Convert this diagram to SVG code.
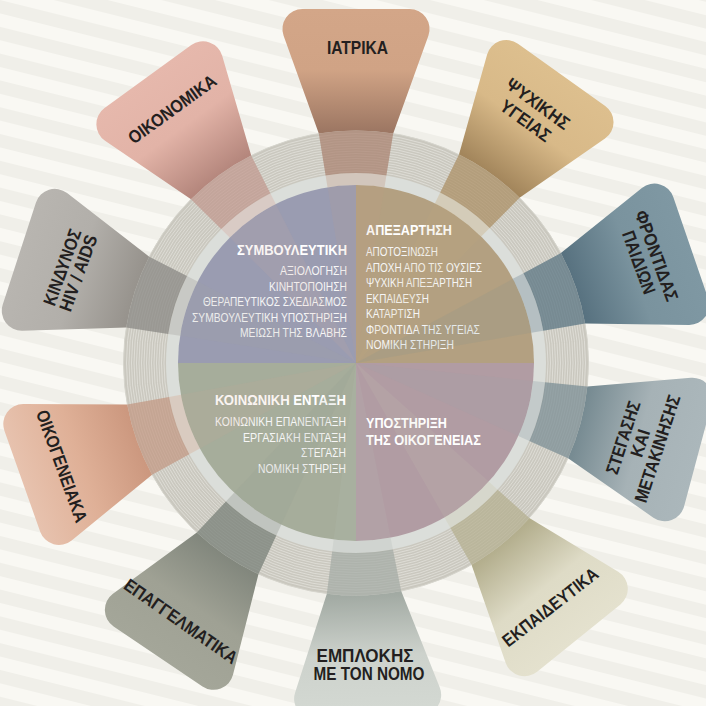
<svg xmlns="http://www.w3.org/2000/svg" xmlns:xlink="http://www.w3.org/1999/xlink" width="706" height="706" viewBox="0 0 706 706">
<style>
.lbl{font-family:"Liberation Sans",Arial,sans-serif;font-weight:bold;font-size:18px;fill:#231f20}
.qt{font-family:"Liberation Sans",Arial,sans-serif;font-weight:bold;font-size:14px;fill:#ffffff}
.qi{font-family:"Liberation Sans",Arial,sans-serif;font-size:13.5px;fill:#f6f6f6}
.stripe{fill:none;stroke:#e0dfd8;stroke-width:0.9}
</style>
<defs>
<pattern id="bgp" width="26" height="26" patternUnits="userSpaceOnUse" patternTransform="rotate(14)">
<rect width="26" height="13" fill="#f0efe9"/>
</pattern>
<path id="petalShape" d="M -37.2 -229.5 L -72.4 -327.3 A 20 20 0 0 1 -53.6 -354 L 53.6 -354 A 20 20 0 0 1 72.4 -327.3 L 37.2 -229.5 A 232.5 232.5 0 0 0 -37.2 -229.5 Z"/>
<path id="bandRing" d="M -37.2 -229.5 A 232.5 232.5 0 0 1 37.2 -229.5 L 30.4 -187.6 A 190 190 0 0 0 -30.4 -187.6 Z"/>
<path id="bandLight" d="M -30.4 -187.6 A 190 190 0 0 1 30.4 -187.6 L 28.5 -175.7 A 178 178 0 0 0 -28.5 -175.7 Z"/>
<path id="bandPie" d="M 0 0 L -28.5 -175.7 A 178 178 0 0 1 28.5 -175.7 Z"/>
<linearGradient id="g1" gradientUnits="userSpaceOnUse" x1="0" y1="-354" x2="0" y2="-232"><stop offset="0" stop-color="#d3a688"/><stop offset="0.5" stop-color="#d0a385"/><stop offset="1" stop-color="#9d7763"/></linearGradient>
<linearGradient id="g2" gradientUnits="userSpaceOnUse" x1="0" y1="-354" x2="0" y2="-232"><stop offset="0" stop-color="#ddbf8e"/><stop offset="0.5" stop-color="#d8b988"/><stop offset="1" stop-color="#a3865c"/></linearGradient>
<linearGradient id="g3" gradientUnits="userSpaceOnUse" x1="0" y1="-354" x2="0" y2="-232"><stop offset="0" stop-color="#7f98a3"/><stop offset="0.5" stop-color="#7a939e"/><stop offset="1" stop-color="#587280"/></linearGradient>
<linearGradient id="g4" gradientUnits="userSpaceOnUse" x1="0" y1="-354" x2="0" y2="-232"><stop offset="0" stop-color="#abb7bb"/><stop offset="0.5" stop-color="#a6b2b6"/><stop offset="1" stop-color="#778b92"/></linearGradient>
<linearGradient id="g5" gradientUnits="userSpaceOnUse" x1="0" y1="-354" x2="0" y2="-232"><stop offset="0" stop-color="#e4e1ce"/><stop offset="0.5" stop-color="#dedbc6"/><stop offset="1" stop-color="#b3ae8d"/></linearGradient>
<linearGradient id="g6" gradientUnits="userSpaceOnUse" x1="0" y1="-354" x2="0" y2="-232"><stop offset="0" stop-color="#d4d9d3"/><stop offset="0.5" stop-color="#cdd2cc"/><stop offset="1" stop-color="#a2aaa3"/></linearGradient>
<linearGradient id="g7" gradientUnits="userSpaceOnUse" x1="0" y1="-354" x2="0" y2="-232"><stop offset="0" stop-color="#a4a699"/><stop offset="0.5" stop-color="#9fa194"/><stop offset="1" stop-color="#82877d"/></linearGradient>
<linearGradient id="g8" gradientUnits="userSpaceOnUse" x1="0" y1="-354" x2="0" y2="-232"><stop offset="0" stop-color="#e7c2ae"/><stop offset="0.5" stop-color="#dfb097"/><stop offset="1" stop-color="#cc987f"/></linearGradient>
<linearGradient id="g9" gradientUnits="userSpaceOnUse" x1="0" y1="-354" x2="0" y2="-232"><stop offset="0" stop-color="#b8b5b0"/><stop offset="0.5" stop-color="#b2afaa"/><stop offset="1" stop-color="#97938d"/></linearGradient>
<linearGradient id="g10" gradientUnits="userSpaceOnUse" x1="0" y1="-354" x2="0" y2="-232"><stop offset="0" stop-color="#e6b8ac"/><stop offset="0.5" stop-color="#e2b3a7"/><stop offset="1" stop-color="#b5877d"/></linearGradient>
</defs>

<rect width="706" height="706" fill="#f9f8f3"/>
<rect width="706" height="706" fill="url(#bgp)"/>

<g id="wheel-ring">
<circle cx="356" cy="363" r="232.5" fill="#cac8bf" stroke="#d6d5cd" stroke-width="1"/>
<g class="stripe">
<circle cx="356" cy="363" r="192"/><circle cx="356" cy="363" r="194.5"/><circle cx="356" cy="363" r="197"/><circle cx="356" cy="363" r="199.5"/><circle cx="356" cy="363" r="202"/><circle cx="356" cy="363" r="204.5"/><circle cx="356" cy="363" r="207"/><circle cx="356" cy="363" r="209.5"/><circle cx="356" cy="363" r="212"/><circle cx="356" cy="363" r="214.5"/><circle cx="356" cy="363" r="217"/><circle cx="356" cy="363" r="219.5"/><circle cx="356" cy="363" r="222"/><circle cx="356" cy="363" r="224.5"/><circle cx="356" cy="363" r="227"/><circle cx="356" cy="363" r="229.5"/>
</g>
<circle cx="356" cy="363" r="190" fill="#dbdeda"/>
</g>

<g id="q-symvouleftiki">
<path d="M356 363 L178 363 A178 178 0 0 1 356 185 Z" fill="#9a9cb1"/>
<text class="qt" x="237" y="255" textLength="110" lengthAdjust="spacingAndGlyphs">ΣΥΜΒΟΥΛΕΥΤΙΚΗ</text>
<text class="qi" x="280" y="275" textLength="67" lengthAdjust="spacingAndGlyphs">ΑΞΙΟΛΟΓΗΣΗ</text>
<text class="qi" x="269" y="290.5" textLength="78" lengthAdjust="spacingAndGlyphs">ΚΙΝΗΤΟΠΟΙΗΣΗ</text>
<text class="qi" x="203" y="306" textLength="144" lengthAdjust="spacingAndGlyphs">ΘΕΡΑΠΕΥΤΙΚΟΣ ΣΧΕΔΙΑΣΜΟΣ</text>
<text class="qi" x="192" y="321.5" textLength="155" lengthAdjust="spacingAndGlyphs">ΣΥΜΒΟΥΛΕΥΤΙΚΗ ΥΠΟΣΤΗΡΙΞΗ</text>
<text class="qi" x="240" y="337" textLength="107" lengthAdjust="spacingAndGlyphs">ΜΕΙΩΣΗ ΤΗΣ ΒΛΑΒΗΣ</text>
</g>

<g id="q-apexartisi">
<path d="M356 363 L356 185 A178 178 0 0 1 534 363 Z" fill="#b3a081"/>
<text class="qt" x="366" y="235" textLength="86" lengthAdjust="spacingAndGlyphs">ΑΠΕΞΑΡΤΗΣΗ</text>
<text class="qi" x="366" y="256" textLength="72" lengthAdjust="spacingAndGlyphs">ΑΠΟΤΟΞΙΝΩΣΗ</text>
<text class="qi" x="366" y="271.5" textLength="116" lengthAdjust="spacingAndGlyphs">ΑΠΟΧΗ ΑΠΟ ΤΙΣ ΟΥΣΙΕΣ</text>
<text class="qi" x="366" y="287" textLength="106" lengthAdjust="spacingAndGlyphs">ΨΥΧΙΚΗ ΑΠΕΞΑΡΤΗΣΗ</text>
<text class="qi" x="366" y="302.5" textLength="63" lengthAdjust="spacingAndGlyphs">ΕΚΠΑΙΔΕΥΣΗ</text>
<text class="qi" x="366" y="318" textLength="54" lengthAdjust="spacingAndGlyphs">ΚΑΤΑΡΤΙΣΗ</text>
<text class="qi" x="366" y="333.5" textLength="114" lengthAdjust="spacingAndGlyphs">ΦΡΟΝΤΙΔΑ ΤΗΣ ΥΓΕΙΑΣ</text>
<text class="qi" x="366" y="349" textLength="88" lengthAdjust="spacingAndGlyphs">ΝΟΜΙΚΗ ΣΤΗΡΙΞΗ</text>
</g>

<g id="q-ypostirixi">
<path d="M356 363 L534 363 A178 178 0 0 1 356 541 Z" fill="#b19ca3"/>
<text class="qt" x="366" y="428" textLength="81" lengthAdjust="spacingAndGlyphs">ΥΠΟΣΤΗΡΙΞΗ</text>
<text class="qt" x="366" y="445" textLength="115" lengthAdjust="spacingAndGlyphs">ΤΗΣ ΟΙΚΟΓΕΝΕΙΑΣ</text>
</g>

<g id="q-koinoniki">
<path d="M356 363 L356 541 A178 178 0 0 1 178 363 Z" fill="#a6ad9b"/>
<text class="qt" x="215" y="405" textLength="131" lengthAdjust="spacingAndGlyphs">ΚΟΙΝΩΝΙΚΗ ΕΝΤΑΞΗ</text>
<text class="qi" x="215" y="426" textLength="131" lengthAdjust="spacingAndGlyphs">ΚΟΙΝΩΝΙΚΗ ΕΠΑΝΕΝΤΑΞΗ</text>
<text class="qi" x="243" y="441.5" textLength="103" lengthAdjust="spacingAndGlyphs">ΕΡΓΑΣΙΑΚΗ ΕΝΤΑΞΗ</text>
<text class="qi" x="301" y="457" textLength="45" lengthAdjust="spacingAndGlyphs">ΣΤΕΓΑΣΗ</text>
<text class="qi" x="258" y="472.5" textLength="88" lengthAdjust="spacingAndGlyphs">ΝΟΜΙΚΗ ΣΤΗΡΙΞΗ</text>
</g>

<g id="connectors"></g>

<g id="p-iatrika">
<g transform="translate(356 363) rotate(0)">
<use xlink:href="#petalShape" fill="url(#g1)"/>
<use xlink:href="#bandRing" fill="#a87f6c" opacity="0.7"/>
<use xlink:href="#bandLight" fill="#c49a84" opacity="0.35"/>
<use xlink:href="#bandPie" fill="#c49a84" opacity="0.12"/>
</g>
<text class="lbl" x="327" y="53.5" textLength="61" lengthAdjust="spacingAndGlyphs">ΙΑΤΡΙΚΑ</text>
</g>

<g id="p-psychikis">
<g transform="translate(356 363) rotate(35.5)">
<use xlink:href="#petalShape" fill="url(#g2)"/>
<use xlink:href="#bandRing" fill="#a98b5f" opacity="0.7"/>
<use xlink:href="#bandLight" fill="#c9ab7c" opacity="0.35"/>
<use xlink:href="#bandPie" fill="#c9ab7c" opacity="0.12"/>
</g>
<g transform="translate(532 112) rotate(36)">
<text class="lbl" x="-37" y="-4" textLength="74" lengthAdjust="spacingAndGlyphs">ΨΥΧΙΚΗΣ</text>
<text class="lbl" x="-29" y="17" textLength="58" lengthAdjust="spacingAndGlyphs">ΥΓΕΙΑΣ</text>
</g>
</g>

<g id="p-frontidas">
<g transform="translate(356 363) rotate(71)">
<use xlink:href="#petalShape" fill="url(#g3)"/>
<use xlink:href="#bandRing" fill="#5b7683" opacity="0.75"/>
<use xlink:href="#bandLight" fill="#6f8894" opacity="0.35"/>
<use xlink:href="#bandPie" fill="#6f8894" opacity="0.12"/>
</g>
<g transform="translate(648 259) rotate(70)">
<text class="lbl" x="-47.5" y="-3" textLength="95" lengthAdjust="spacingAndGlyphs">ΦΡΟΝΤΙΔΑΣ</text>
<text class="lbl" x="-33" y="16" textLength="66" lengthAdjust="spacingAndGlyphs">ΠΑΙΔΙΩΝ</text>
</g>
</g>

<g id="p-stegasis">
<g transform="translate(356 363) rotate(105)">
<use xlink:href="#petalShape" fill="url(#g4)"/>
<use xlink:href="#bandRing" fill="#7c8f96" opacity="0.75"/>
<use xlink:href="#bandLight" fill="#98a7ad" opacity="0.35"/>
<use xlink:href="#bandPie" fill="#98a7ad" opacity="0.12"/>
</g>
<g transform="translate(640 443) rotate(-72)">
<text class="lbl" x="-38" y="-11.5" textLength="76" lengthAdjust="spacingAndGlyphs">ΣΤΕΓΑΣΗΣ</text>
<text class="lbl" x="-14" y="6.5" textLength="28" lengthAdjust="spacingAndGlyphs">ΚΑΙ</text>
<text class="lbl" x="-56" y="24.5" textLength="112" lengthAdjust="spacingAndGlyphs">ΜΕΤΑΚΙΝΗΣΗΣ</text>
</g>
</g>

<g id="p-ekpaideftika">
<g transform="translate(356 363) rotate(141)">
<use xlink:href="#petalShape" fill="url(#g5)"/>
<use xlink:href="#bandRing" fill="#b3ae8d" opacity="0.7"/>
<use xlink:href="#bandLight" fill="#cfcbb3" opacity="0.35"/>
<use xlink:href="#bandPie" fill="#cfcbb3" opacity="0.12"/>
</g>
<g transform="translate(550 607) rotate(-38)">
<text class="lbl" x="-58" y="6.5" textLength="116" lengthAdjust="spacingAndGlyphs">ΕΚΠΑΙΔΕΥΤΙΚΑ</text>
</g>
</g>

<g id="p-emplokis">
<g transform="translate(356 363) rotate(178)">
<use xlink:href="#petalShape" fill="url(#g6)"/>
<use xlink:href="#bandRing" fill="#a2aaa4" opacity="0.7"/>
<use xlink:href="#bandLight" fill="#bcc3bd" opacity="0.35"/>
<use xlink:href="#bandPie" fill="#bcc3bd" opacity="0.12"/>
</g>
<text class="lbl" x="316.5" y="661.5" textLength="97" lengthAdjust="spacingAndGlyphs">ΕΜΠΛΟΚΗΣ</text>
<text class="lbl" x="313.5" y="679.5" textLength="111" lengthAdjust="spacingAndGlyphs">ΜΕ ΤΟΝ ΝΟΜΟ</text>
</g>

<g id="p-epangelmatika">
<g transform="translate(356 363) rotate(214)">
<use xlink:href="#petalShape" fill="url(#g7)"/>
<use xlink:href="#bandRing" fill="#788078" opacity="0.75"/>
<use xlink:href="#bandLight" fill="#8f958b" opacity="0.35"/>
<use xlink:href="#bandPie" fill="#8f958b" opacity="0.12"/>
</g>
<g transform="translate(181 621) rotate(35)">
<text class="lbl" x="-67" y="6.5" textLength="134" lengthAdjust="spacingAndGlyphs">ΕΠΑΓΓΕΛΜΑΤΙΚΑ</text>
</g>
</g>

<g id="p-oikogeneiaka">
<g transform="translate(356 363) rotate(250.5)">
<use xlink:href="#petalShape" fill="url(#g8)"/>
<use xlink:href="#bandRing" fill="#c29580" opacity="0.7"/>
<use xlink:href="#bandLight" fill="#d6a890" opacity="0.35"/>
<use xlink:href="#bandPie" fill="#d6a890" opacity="0.12"/>
</g>
<g transform="translate(62 466) rotate(70)">
<text class="lbl" x="-59" y="6.5" textLength="118" lengthAdjust="spacingAndGlyphs">ΟΙΚΟΓΕΝΕΙΑΚΑ</text>
</g>
</g>

<g id="p-kindynos">
<g transform="translate(356 363) rotate(288)">
<use xlink:href="#petalShape" fill="url(#g9)"/>
<use xlink:href="#bandRing" fill="#8a8884" opacity="0.75"/>
<use xlink:href="#bandLight" fill="#a5a29d" opacity="0.35"/>
<use xlink:href="#bandPie" fill="#a5a29d" opacity="0.12"/>
</g>
<g transform="translate(70 270) rotate(-70)">
<text class="lbl" x="-40" y="-2" textLength="80" lengthAdjust="spacingAndGlyphs">ΚΙΝΔΥΝΟΣ</text>
<text class="lbl" x="-40" y="15" textLength="80" lengthAdjust="spacingAndGlyphs">HIV / AIDS</text>
</g>
</g>

<g id="p-oikonomika">
<g transform="translate(356 363) rotate(324)">
<use xlink:href="#petalShape" fill="url(#g10)"/>
<use xlink:href="#bandRing" fill="#c0968c" opacity="0.7"/>
<use xlink:href="#bandLight" fill="#d8aa9f" opacity="0.35"/>
<use xlink:href="#bandPie" fill="#d8aa9f" opacity="0.12"/>
</g>
<g transform="translate(172 109) rotate(-36)">
<text class="lbl" x="-52" y="6.5" textLength="104" lengthAdjust="spacingAndGlyphs">ΟΙΚΟΝΟΜΙΚΑ</text>
</g>
</g>
</svg>
